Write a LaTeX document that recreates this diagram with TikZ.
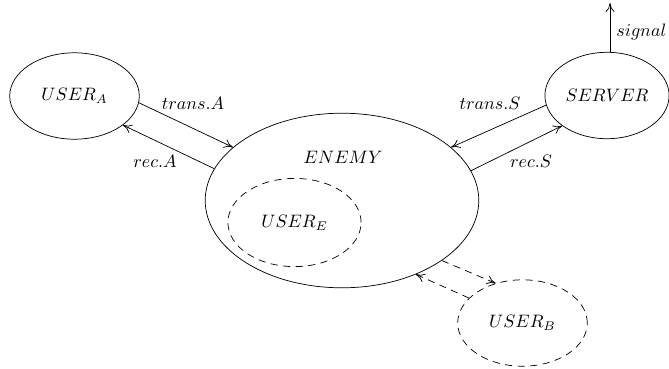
\documentclass[tikz,border=0pt]{standalone}
\usepackage{amsmath}
\usetikzlibrary{arrows.meta, positioning, calc, shapes}

\begin{document}
\begin{tikzpicture}[x=0.5556pt, y=-0.5556pt,
  party/.style={draw, ellipse, inner sep=0pt, minimum width=72pt, minimum height=48pt},
  ghost/.style={party, dash pattern=on 4pt off 3pt},
  msg/.style={-{To[length=5pt, width=5pt]}},
  ghostmsg/.style={msg, dash pattern=on 4pt off 3pt}]
  \useasboundingbox (0,0) rectangle (669,368);
  % Parties
  \node[party] (usera) at (74.5,96) {$USER_A$};
  \node[party, minimum width=69pt] (server) at (607,95.5) {$SERVER$};
  \node[party, minimum width=152pt, minimum height=97pt] (enemy) at (342,200.5) {};
  \node (enemylbl) at (343,157) {$ENEMY$};
  \node[ghost, minimum width=74pt, minimum height=49pt] (usere) at (294.5,222.5) {$USER_E$};
  \node[ghost] (userb) at (522.5,323) {$USER_B$};
  \coordinate (sigtop) at (610,3);

  % Channels to the enemy
  \draw[msg] (usera.-6) -- (enemy.154);
  \draw[msg] (enemy.166) -- (usera.-31);
  \draw[msg] (server.-171) -- (enemy.26);
  \draw[msg] (enemy.13) -- (server.-146);
  \draw[ghostmsg] (enemy.-31) -- (userb.124);
  \draw[ghostmsg] (userb.155) -- (enemy.-45);
  \draw[msg] (server.86) -- (server.86 |- sigtop) node[pos=0.4, right] {$signal$};

  % Channel labels
  \node (transa) at (193,103) {$trans.A$};
  \node (reca) at (155,161) {$rec.A$};
  \node (transs) at (490,103) {$trans.S$};
  \node (recs) at (531,161) {$rec.S$};
\end{tikzpicture}
\end{document}
